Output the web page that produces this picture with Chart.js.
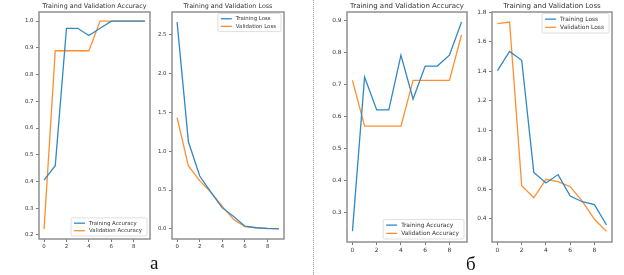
<!DOCTYPE html>
<html>
<head>
<meta charset="utf-8">
<script src="https://cdn.jsdelivr.net/npm/chart.js@4.4.0/dist/chart.umd.min.js"></script>
<style>
  body { margin:0; background:#fff; width:624px; height:275px; position:relative; overflow:hidden; }
  canvas { position:absolute; top:0; }
  .sep { position:absolute; left:313px; top:0; height:275px; border-left:1px dotted #9a9a9a; }
  .lbl { position:absolute; font-family:"Liberation Serif","DejaVu Serif",serif; font-size:19px; color:#111; line-height:1; }
</style>
</head>
<body>
<canvas id="c1"></canvas>
<canvas id="c2"></canvas>
<canvas id="c3"></canvas>
<canvas id="c4"></canvas>
<div class="sep"></div>
<div class="lbl" style="left:150px;top:253px;">a</div>
<div class="lbl" style="left:466px;top:254px;">б</div>
<script>
/* ---------- data ---------- */
const epochs      = [0, 1, 2, 3, 4, 5, 6, 7, 8, 9];
const xTicks      = [0, 2, 4, 6, 8];

const accTrainA   = [0.405, 0.459, 0.973, 0.973, 0.946, 0.973, 1.0, 1.0, 1.0, 1.0];
const accValA     = [0.222, 0.889, 0.889, 0.889, 0.889, 1.0, 1.0, 1.0, 1.0, 1.0];
const lossTrainA  = [2.66, 1.12, 0.68, 0.47, 0.27, 0.16, 0.035, 0.015, 0.006, 0.003];
const lossValA    = [1.43, 0.81, 0.62, 0.47, 0.29, 0.12, 0.03, 0.012, 0.004, 0.002];

const accTrainB   = [0.243, 0.725, 0.622, 0.622, 0.793, 0.656, 0.759, 0.759, 0.793, 0.897];
const accValB     = [0.714, 0.571, 0.571, 0.571, 0.571, 0.714, 0.714, 0.714, 0.714, 0.857];
const lossTrainB  = [1.404, 1.535, 1.475, 0.715, 0.643, 0.70, 0.555, 0.516, 0.496, 0.358];
const lossValB    = [1.723, 1.734, 0.624, 0.543, 0.668, 0.652, 0.618, 0.52, 0.397, 0.315];

const accTicksA   = [0.2, 0.3, 0.4, 0.5, 0.6, 0.7, 0.8, 0.9, 1.0];
const lossTicksA  = [0.0, 0.5, 1.0, 1.5, 2.0, 2.5];
const accTicksB   = [0.3, 0.4, 0.5, 0.6, 0.7, 0.8, 0.9];
const lossTicksB  = [0.4, 0.6, 0.8, 1.0, 1.2, 1.4, 1.6, 1.8];

const BLUE   = "#3088c4";   // tab:blue, a bit softened like the scan
const ORANGE = "#ff8f2e";   // tab:orange
const TEXT   = "#333333";
const FONT   = "'DejaVu Sans', sans-serif";

/* ---------- frame, title and matplotlib-ish legend ---------- */
const mplLook = {
  id: "mplLook",
  afterDraw(chart, args, o) {
    const { ctx, chartArea: a } = chart;
    ctx.save();
    ctx.strokeStyle = "#909090";
    ctx.lineWidth = 1.5;
    ctx.strokeRect(a.left, a.top, a.right - a.left, a.bottom - a.top);

    ctx.fillStyle = TEXT;
    ctx.font = `${o.titleSize}px ${FONT}`;
    ctx.textAlign = "center";
    ctx.textBaseline = "bottom";
    ctx.fillText(o.title, (a.left + a.right) / 2, a.top - 2.5);

    // legend box
    ctx.font = `${o.legSize}px ${FONT}`;
    const ds = chart.data.datasets;
    const tw = Math.max(...ds.map(d => ctx.measureText(d.label).width));
    const row = o.legSize * 1.4;
    const w = 4 + 11 + 4 + tw + 4, h = row * ds.length + 3;
    const bx = a.right - 3 - w;
    const by = o.legLoc === "upper" ? a.top + 1.5 : a.bottom - 3 - h;
    ctx.fillStyle = "rgba(255,255,255,0.85)";
    ctx.strokeStyle = "#d6d6d6";
    ctx.lineWidth = 0.8;
    ctx.beginPath();
    ctx.roundRect(bx, by, w, h, 1.5);
    ctx.fill();
    ctx.stroke();
    ctx.textAlign = "left";
    ctx.textBaseline = "middle";
    ds.forEach((d, i) => {
      const y = by + 1.5 + row * (i + 0.5);
      ctx.strokeStyle = d.borderColor;
      ctx.lineWidth = 1.3;
      ctx.beginPath();
      ctx.moveTo(bx + 3, y);
      ctx.lineTo(bx + 14, y);
      ctx.stroke();
      ctx.fillStyle = TEXT;
      ctx.fillText(d.label, bx + 18, y + 0.3);
    });
    ctx.restore();
  }
};

function makeChart(id, box, cfg) {
  const yw = 30;
  const cv = document.getElementById(id);
  const W = box.right - box.left + yw + 4;
  const H = 258;
  cv.width = W; cv.height = H;
  cv.style.left = (box.left - yw) + "px";
  cv.style.width = W + "px"; cv.style.height = H + "px";

  const tickFont = { family: FONT, size: cfg.tickSize };
  const grid = { display:true, drawOnChartArea:false, drawTicks:true, tickLength:3, color:"#555", lineWidth:0.8 };

  return new Chart(cv.getContext("2d"), {
    type: "line",
    data: {
      datasets: [
        { label: cfg.labels[0], data: epochs.map((e, i) => ({ x:e, y:cfg.train[i] })),
          borderColor: BLUE, borderWidth: 1.3, pointRadius: 0, tension: 0 },
        { label: cfg.labels[1], data: epochs.map((e, i) => ({ x:e, y:cfg.val[i] })),
          borderColor: ORANGE, borderWidth: 1.3, pointRadius: 0, tension: 0 }
      ]
    },
    options: {
      responsive: false,
      animation: false,
      layout: { padding: { left:0, right:4, top:box.top, bottom:0 } },
      plugins: {
        legend: { display:false },
        tooltip: { enabled:false },
        mplLook: { title:cfg.title, titleSize:cfg.titleSize, legSize:cfg.legSize, legLoc:cfg.legLoc }
      },
      scales: {
        x: {
          type: "linear", min: -0.45, max: 9.45,
          afterBuildTicks: s => { s.ticks = xTicks.map(v => ({ value:v })); },
          afterFit: s => { s.height = H - box.bottom; },
          ticks: { font: tickFont, color: TEXT, padding: 1.5, maxRotation: 0,
                   callback: v => String(v) },
          grid: grid, border: { display:false }
        },
        y: {
          type: "linear", min: cfg.yMin, max: cfg.yMax,
          afterBuildTicks: s => { s.ticks = cfg.yTicks.map(v => ({ value:v })); },
          afterFit: s => { s.width = yw; },
          ticks: { font: tickFont, color: TEXT, padding: 2.5,
                   callback: v => Number(v).toFixed(1) },
          grid: grid, border: { display:false }
        }
      }
    },
    plugins: [mplLook]
  });
}

makeChart("c1", { left:39, right:150, top:12, bottom:239 }, {
  title: "Training and Validation Accuracy", labels: ["Training Accuracy", "Validation Accuracy"],
  train: accTrainA, val: accValA, yTicks: accTicksA, yMin: 0.185, yMax: 1.034,
  tickSize: 5.4, titleSize: 6.4, legSize: 5.4, legLoc: "lower"
});
makeChart("c2", { left:172, right:284, top:12, bottom:239 }, {
  title: "Training and Validation Loss", labels: ["Training Loss", "Validation Loss"],
  train: lossTrainA, val: lossValA, yTicks: lossTicksA, yMin: -0.13, yMax: 2.79,
  tickSize: 5.4, titleSize: 6.4, legSize: 5.4, legLoc: "upper"
});
makeChart("c3", { left:347, right:467, top:12, bottom:242 }, {
  title: "Training and Validation Accuracy", labels: ["Training Accuracy", "Validation Accuracy"],
  train: accTrainB, val: accValB, yTicks: accTicksB, yMin: 0.209, yMax: 0.928,
  tickSize: 5.9, titleSize: 7, legSize: 5.9, legLoc: "lower"
});
makeChart("c4", { left:492, right:612, top:12, bottom:242 }, {
  title: "Training and Validation Loss", labels: ["Training Loss", "Validation Loss"],
  train: lossTrainB, val: lossValB, yTicks: lossTicksB, yMin: 0.243, yMax: 1.802,
  tickSize: 5.9, titleSize: 7, legSize: 5.9, legLoc: "upper"
});
</script>
</body>
</html>
